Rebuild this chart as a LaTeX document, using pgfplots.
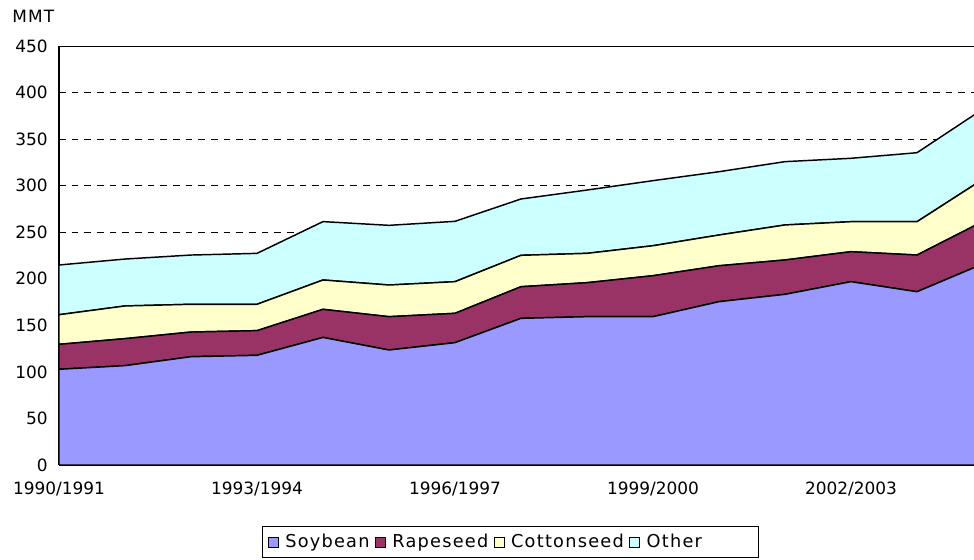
\documentclass[border=0pt]{standalone}
\usepackage{fontspec}
\setmainfont{DejaVu Sans}
\newfontfamily\spaced[LetterSpace=7]{DejaVu Sans}
\usepackage{pgfplots}
\usepackage{pgfplotstable}
\pgfplotsset{compat=1.18}

\definecolor{soy}{HTML}{9999FF}
\definecolor{rape}{HTML}{993366}
\definecolor{cotton}{HTML}{FFFFCC}
\definecolor{other}{HTML}{CCFFFF}

% year index, then the layer thickness of each crop (MMT)
\pgfplotstableread{
i  soy    rape  cotton other
0  102.8  26.8  31.8   53.4
1  106.7  29.0  35.1   50.4
2  116.3  26.5  29.8   52.9
3  117.8  26.5  28.3   54.7
4  137.0  30.2  31.5   62.7
5  123.5  35.8  34.0   64.1
6  131.4  31.5  34.0   64.8
7  157.5  34.0  33.7   60.5
8  159.3  36.5  31.5   68.0
9  159.3  44.0  32.2   69.9
10 175.4  38.6  33.0   68.0
11 183.3  36.9  37.6   68.0
12 196.9  32.2  32.2   68.1
13 186.1  39.4  35.8   74.1
14 216.0  45.6  45.3   75.4
}\oilseeds

\begin{document}
\begin{tikzpicture}
% page = 974 x 560 px, 1 px = 0.75pt
\path[use as bounding box] (0pt,0pt) rectangle (730.5pt,420pt);

\begin{axis}[
    at={(44.25pt,71.25pt)},
    anchor=south west,
    scale only axis,
    width=686.25pt,
    height=314.25pt,
    xmin=0, xmax=13.864,
    ymin=0, ymax=450,
    stack plots=y,
    axis x line*=bottom,
    axis y line*=left,
    axis line style={black, line width=0.9pt, -},
    xtick={0,3,6,9,12},
    xticklabels={1990/1991,1993/1994,1996/1997,1999/2000,2002/2003},
    minor xtick={1,2,4,5,7,8,10,11,13},
    ytick={0,50,...,450},
    tick align=inside,
    major tick length=3pt,
    minor tick length=3pt,
    tick style={black, line width=0.6pt},
    ymajorgrids,
    grid style={black, line width=0.5pt, dash pattern=on 5pt off 4.5pt},
    font=\fontsize{12.7}{15}\selectfont,
    /pgf/number format/assume math mode=true,
    yticklabel style={xshift=-5pt},
    xticklabel style={yshift=-9pt},
    legend columns=-1,
    legend style={
        at={(0.4935,-0.1456)}, anchor=north,
        draw=black, line width=0.6pt,
        inner xsep=4pt, inner ysep=4pt,
        font=\fontsize{13.3}{16}\selectfont\spaced,
        /tikz/every odd column/.append style={column sep=3pt},
        /tikz/every even column/.append style={column sep=2pt},
    },
    legend image code/.code={
        \draw[#1, draw=black, line width=0.6pt] (0pt,-3.75pt) rectangle (7.5pt,3.75pt);
    },
]

\addplot[fill=soy, draw=black, line width=1.1pt] table[x=i, y=soy] {\oilseeds} \closedcycle;
\addlegendentry{Soybean}
\addplot[fill=rape, draw=black, line width=1.1pt] table[x=i, y=rape] {\oilseeds} \closedcycle;
\addlegendentry{Rapeseed}
\addplot[fill=cotton, draw=black, line width=1.1pt] table[x=i, y=cotton] {\oilseeds} \closedcycle;
\addlegendentry{Cottonseed}
\addplot[fill=other, draw=black, line width=1.1pt] table[x=i, y=other] {\oilseeds} \closedcycle;
\addlegendentry{\makebox[78pt][l]{Other}}

% solid top line at 450
\draw[black, line width=0.9pt] (rel axis cs:0,1) -- (rel axis cs:1,1);

\end{axis}

\node[anchor=west, inner sep=0pt, font=\fontsize{12.7}{15}\selectfont\spaced] at (9pt,408pt) {MMT};

\end{tikzpicture}
\end{document}
